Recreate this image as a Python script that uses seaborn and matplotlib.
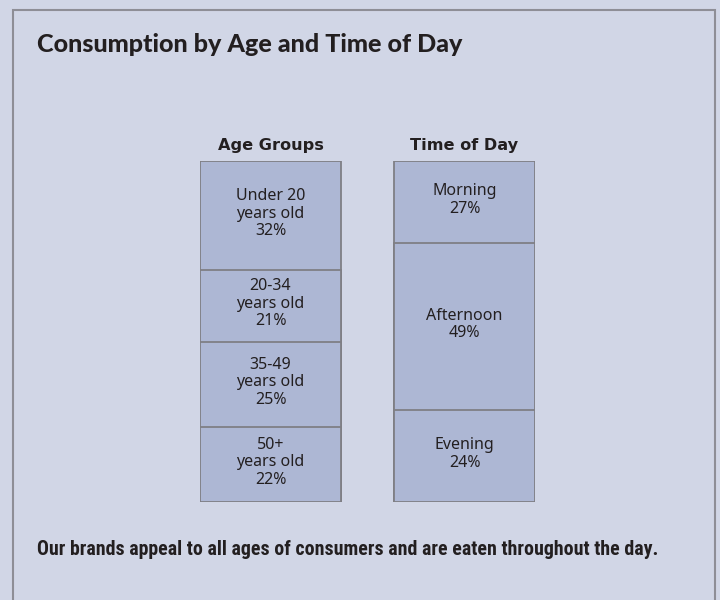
import matplotlib
matplotlib.use("Agg")
import matplotlib.pyplot as plt
import seaborn as sns
import pandas as pd
from matplotlib.patches import Rectangle
from matplotlib import font_manager

# ---- data ----
groups = ["Age Groups", "Time of Day"]
age_labels = ["Under 20\nyears old", "20-34\nyears old", "35-49\nyears old", "50+\nyears old"]
age_values = [32, 21, 25, 22]          # printed percentages
age_shares = [32, 21, 25, 22]          # segment heights as drawn
time_labels = ["Morning", "Afternoon", "Evening"]
time_values = [27, 49, 24]             # printed percentages
time_shares = [24, 49, 27]             # segment heights as drawn in the picture
title = "Consumption by Age and Time of Day"
footnote = "Our brands appeal to all ages of consumers and are eaten throughout the day."

# ---- style ----
BG = "#d1d6e6"
BAR = "#adb7d4"
EDGE = "#7f7f85"
TXT = "#231f20"

sns.set_theme(style="white")
plt.rcParams["font.family"] = ["Noto Sans", "DejaVu Sans"]

installed = {f.name for f in font_manager.fontManager.ttflist}


def pick(cands):
    for c in cands:
        if c in installed:
            return c
    return "DejaVu Sans"


cond_family = pick(["Roboto Condensed", "Open Sans Condensed", "Liberation Sans Narrow",
                    "Noto Sans Condensed", "DejaVu Sans"])

# build long table: segments listed top-down, stacked from the top
rows = []
for grp, labels, values, shares in [(groups[0], age_labels, age_values, age_shares),
                                    (groups[1], time_labels, time_values, time_shares)]:
    top = sum(shares)
    for lab, v, s in zip(labels, values, shares):
        rows.append({"group": grp, "label": lab, "value": v, "share": s,
                     "top": top, "bottom": top - s})
        top -= s
df = pd.DataFrame(rows)

fig = plt.figure(figsize=(7.2, 6.0), dpi=100, facecolor=BG)
W, H = 720, 600

# outer frame
fig.add_artist(Rectangle((13 / W, -0.05), (715 - 13) / W, 1.05 - 10 / H,
                         transform=fig.transFigure, fill=False,
                         edgecolor="#8e8e96", linewidth=1.5))

bar_w = 141 / 194
x0, x1 = 200, 535
y_top, y_bot = 161, 502
ax = fig.add_axes([x0 / W, 1 - y_bot / H, (x1 - x0) / W, (y_bot - y_top) / H])
ax.set_facecolor("none")

# draw cumulative bars, tallest first so shorter segments overlay
for _, r in df.sort_values("top", ascending=False).iterrows():
    sns.barplot(data=pd.DataFrame([r]), x="group", y="top", order=groups,
                width=bar_w, color=BAR, saturation=1, edgecolor=EDGE,
                linewidth=1.3, ax=ax)

ax.set_xlim(-bar_w / 2, 1 + bar_w / 2)
ax.set_ylim(0, 100)
ax.axis("off")

# segment labels
for _, r in df.iterrows():
    xi = groups.index(r["group"])
    ax.text(xi, (r["top"] + r["bottom"]) / 2 + 0.6, f'{r["label"]}\n{r["value"]}%',
            ha="center", va="center", fontsize=11.5, color=TXT, linespacing=1.13)

# group headers
for i, g in enumerate(groups):
    ax.annotate(g, (i, 100), xytext=(0, 6), textcoords="offset points",
                ha="center", va="bottom", fontsize=11.6, fontweight="bold",
                family=["DejaVu Sans"], color=TXT)

t_title = fig.text(37 / W, 1 - 52 / H, title, ha="left", va="baseline", fontsize=19,
                   fontweight=900, fontstretch="normal", color=TXT,
                   family=["Lato", "DejaVu Sans"])
t_foot = fig.text(37 / W, 1 - 555 / H, footnote, ha="left", va="baseline", fontsize=13,
                  fontweight="bold", fontstretch="condensed", color=TXT,
                  family=[cond_family, "DejaVu Sans"])

# fit text widths to the reference layout
fig.canvas.draw()
rend = fig.canvas.get_renderer()
for t, target in [(t_title, 425), (t_foot, 615)]:
    w = t.get_window_extent(rend).width
    t.set_fontsize(t.get_fontsize() * target / w)

fig.savefig("out.png", dpi=100, facecolor=BG)
